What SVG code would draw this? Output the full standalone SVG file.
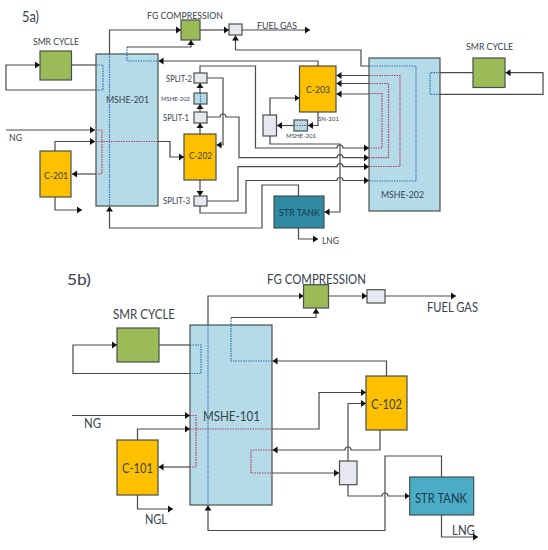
<svg xmlns="http://www.w3.org/2000/svg" width="548" height="550" viewBox="0 0 548 550">
<style>
text{font-family:"Lato","Open Sans","Liberation Sans",sans-serif;fill:#37424c;font-size:10px}
.box{stroke:#46504a;stroke-width:1.200}
.hx{fill:#b5dbe8}.gr{fill:#9bbb59}.or{fill:#ffc000}.sp{fill:#e8e8f0}
.c{fill:none;stroke:#4a4a4a;stroke-width:1.200}
.a{marker-end:url(#ah)}
.b{fill:none;stroke:#2e75b6;stroke-width:1.200;stroke-dasharray:1.500 1}
.r{fill:none;stroke:#b2405f;stroke-width:1.200;stroke-dasharray:1.500 1}
.dk{fill:#1f3a4a}
.l{font-size:13px}
.s{font-size:6px}
</style>
<defs>
<marker id="ah" markerUnits="userSpaceOnUse" markerWidth="6" markerHeight="8" refX="5" refY="4" orient="auto"><path d="M0,0.500L5,4L0,7.500z" fill="#111"/></marker>
</defs>
<rect width="548" height="550" fill="#fff"/>
<text x="22" y="22" style="font-size:15px" textLength="17" lengthAdjust="spacingAndGlyphs">5a)</text>
<text x="67" y="285" style="font-size:16px" textLength="24" lengthAdjust="spacingAndGlyphs">5b)</text>
<g id="nodes-a">
<g id="mshe-201"><rect class="box hx" x="96" y="54" width="62" height="152"/><text x="106" y="103" textLength="43" lengthAdjust="spacingAndGlyphs">MSHE-201</text></g>
<g id="mshe-202"><rect class="box hx" x="369" y="58" width="71" height="153"/><text x="381" y="198" textLength="43" lengthAdjust="spacingAndGlyphs">MSHE-202</text></g>
<g id="smr-a1"><rect class="box gr" x="40" y="51" width="31.500" height="29"/><text x="33" y="45" textLength="46" lengthAdjust="spacingAndGlyphs">SMR CYCLE</text></g>
<g id="smr-a2"><rect class="box gr" x="473" y="58" width="32" height="29.500"/><text x="466" y="50" textLength="47" lengthAdjust="spacingAndGlyphs">SMR CYCLE</text></g>
<g id="fg-a"><rect class="box gr" x="181" y="20" width="19" height="20"/><text x="147" y="19" textLength="76" lengthAdjust="spacingAndGlyphs">FG COMPRESSION</text></g>
<g id="valve-a"><rect class="box sp" x="229" y="24" width="13" height="11"/></g>
<g id="c-201"><rect class="box or" x="40" y="151" width="31" height="46"/><text x="44" y="179" textLength="24" lengthAdjust="spacingAndGlyphs">C-201</text></g>
<g id="c-202"><rect class="box or" x="184" y="134" width="32" height="46"/><text x="189" y="159" textLength="23" lengthAdjust="spacingAndGlyphs">C-202</text></g>
<g id="c-203"><rect class="box or" x="299.500" y="66" width="36.500" height="46"/><text x="306" y="93" textLength="24" lengthAdjust="spacingAndGlyphs">C-203</text></g>
<g id="split-2"><rect class="box sp" x="194" y="73" width="13" height="10"/><text x="166" y="82" textLength="26" lengthAdjust="spacingAndGlyphs">SPLIT-2</text></g>
<g id="mshe-202-small"><rect class="box hx" x="194" y="93" width="13" height="11"/><path class="b" d="M200.500,93V104"/><text class="s" x="161" y="101" textLength="29" lengthAdjust="spacingAndGlyphs">MSHE-202</text></g>
<g id="split-1"><rect class="box sp" x="194" y="112" width="13" height="11"/><text x="163" y="121" textLength="26" lengthAdjust="spacingAndGlyphs">SPLIT-1</text></g>
<g id="split-3"><rect class="box sp" x="194" y="196" width="13" height="10"/><text x="163" y="204" textLength="27" lengthAdjust="spacingAndGlyphs">SPLIT-3</text></g>
<g id="mixer-a"><rect class="box sp" x="263" y="115" width="13.500" height="21"/></g>
<g id="mshe-201-small"><rect class="box hx" x="294" y="120" width="13.500" height="11"/><path class="r" d="M294,125.500H307.500"/><text class="s" x="286" y="138" textLength="30" lengthAdjust="spacingAndGlyphs">MSHE-201</text></g>
<text class="s" x="318" y="121" textLength="21" lengthAdjust="spacingAndGlyphs">SN-201</text>
<g id="str-a"><rect class="box" fill="#2e8ba3" x="274" y="196" width="50" height="32"/><text class="dk" x="279" y="216" textLength="41" lengthAdjust="spacingAndGlyphs">STR TANK</text></g>
</g>
<g id="connectors-a">
<path class="b" d="M96,65H103V90H96"/>
<path class="b" d="M109.500,54V206"/>
<path class="b" d="M127,47V61H158"/>
<path class="r" d="M96,130H102V174H96"/>
<path class="r" d="M96,141.500H158"/>
<path class="b" d="M369,66H416V181H369"/>
<path class="r" d="M369,75.500H400V166.500H369"/>
<path class="r" d="M369,83.500H388.500V157.700H369"/>
<path class="r" d="M369,93.500H382V148H369"/>
<path class="b" d="M440,72.700H430V94.300H440"/>
<path class="c" d="M71.500,65H96"/>
<path class="c a" d="M96,90H6V65H40"/>
<path class="c a" d="M6,130H95"/>
<path class="c a" d="M55,151V141.500H95"/>
<path class="c a" d="M96,174H72"/>
<path class="c a" d="M55,197V210H82"/>
<path class="c a" d="M158,141.500H170V157H184"/>
<path class="c a" d="M109.500,54V30H181"/>
<path class="c a" d="M127,47H191V40"/>
<path class="c a" d="M200,30H229"/>
<path class="c a" d="M242,30H310"/>
<path class="c a" d="M235.500,50V35.500"/>
<path class="c" d="M235.500,50H361V66H369"/>
<path class="c a" d="M318,66V61H158.500"/>
<path class="c a" d="M200,134V123"/>
<path class="c a" d="M200,112V104"/>
<path class="c a" d="M200,93V83"/>
<path class="c a" d="M200,180V196"/>
<path class="c a" d="M207,78H223V145H216.500"/>
<path class="c a" d="M207,117H220a3,3 0 0 1 6,0H239V157.700H337a3,3 0 0 1 6,0H369"/>
<path class="c a" d="M200,73V66H255.500V148H337a3,3 0 0 1 6,0H369"/>
<path class="c a" d="M207,201H238V166.700H337a3,3 0 0 1 6,0H369"/>
<path class="c a" d="M200,206V213H246V180.500H337a3,3 0 0 1 6,0H369"/>
<path class="c a" d="M270,136V144H340V212H324.500"/>
<path class="c a" d="M369,75.500H336.500"/>
<path class="c a" d="M369,83.500H336.500"/>
<path class="c a" d="M369,94H336.500"/>
<path class="c a" d="M318,112V125.500H308"/>
<path class="c a" d="M294,125.500H277"/>
<path class="c a" d="M270,115V98H299.500"/>
<path class="c a" d="M298.500,196V185H262V228H109.500V206.500"/>
<path class="c a" d="M298.500,228V239H318"/>
<path class="c" d="M440,72.700H473"/>
<path class="c a" d="M440,94.300H543V72.700H505.500"/>
</g>
<text x="257" y="29" textLength="40" lengthAdjust="spacingAndGlyphs">FUEL GAS</text>
<text x="9" y="141" textLength="13" lengthAdjust="spacingAndGlyphs">NG</text>
<text x="322" y="244" textLength="17" lengthAdjust="spacingAndGlyphs">LNG</text>
<g id="nodes-b">
<g id="mshe-101"><rect class="box hx" x="190" y="325" width="82" height="180"/><text class="l" x="203" y="421" textLength="57" lengthAdjust="spacingAndGlyphs">MSHE-101</text></g>
<g id="smr-b"><rect class="box gr" x="117" y="328" width="42" height="34"/><text class="l" x="113" y="319" textLength="62" lengthAdjust="spacingAndGlyphs">SMR CYCLE</text></g>
<g id="fg-b"><rect class="box gr" x="303.500" y="284.700" width="25" height="23.300"/><text class="l" x="267" y="284" textLength="99" lengthAdjust="spacingAndGlyphs">FG COMPRESSION</text></g>
<g id="valve-b"><rect class="box sp" x="367" y="289.700" width="18" height="13.300"/></g>
<g id="c-101"><rect class="box or" x="117" y="440" width="41" height="55"/><text class="l" x="122" y="473" textLength="31" lengthAdjust="spacingAndGlyphs">C-101</text></g>
<g id="c-102"><rect class="box or" x="366" y="376" width="41" height="54"/><text class="l" x="371" y="409" textLength="31" lengthAdjust="spacingAndGlyphs">C-102</text></g>
<g id="mixer-b"><rect class="box sp" x="339.500" y="461" width="17.500" height="23.700"/></g>
<g id="str-b"><rect class="box" fill="#4bacc6" x="409.700" y="477" width="64" height="38"/><text class="dk l" x="415" y="503" textLength="52" lengthAdjust="spacingAndGlyphs">STR TANK</text></g>
</g>
<g id="connectors-b">
<path class="b" d="M190,345H201V373.500H190"/>
<path class="b" d="M208,325V505"/>
<path class="b" d="M272,361H231V317.500"/>
<path class="r" d="M190,415.500H196V467H190"/>
<path class="r" d="M190,429H272"/>
<path class="r" d="M272,450H251V473H272"/>
<path class="c" d="M159,345H190"/>
<path class="c a" d="M190,373.500H73V345H117"/>
<path class="c a" d="M72,415.500H190"/>
<path class="c a" d="M137.500,440V429H190"/>
<path class="c a" d="M190,467H158.500"/>
<path class="c a" d="M137.500,495V509H173"/>
<path class="c a" d="M208,325V296H303.500"/>
<path class="c a" d="M231,317.500H316V308.500"/>
<path class="c a" d="M328.500,296H367"/>
<path class="c a" d="M385,296H456"/>
<path class="c a" d="M386.500,376V361H272.500"/>
<path class="c a" d="M272,429H319V392.500H366"/>
<path class="c a" d="M380,430V450H351a3,3 0 0 0 -6,0H272.500"/>
<path class="c a" d="M272,473H339"/>
<path class="c a" d="M348,461V403.500H366"/>
<path class="c a" d="M348,484.700V496H382a3,3 0 0 1 6,0H409.500"/>
<path class="c a" d="M441.500,477V456H385V530.500H208V505.500"/>
<path class="c a" d="M441.500,515V537H478"/>
</g>
<text class="l" x="427" y="312" textLength="51" lengthAdjust="spacingAndGlyphs">FUEL GAS</text>
<text class="l" x="84" y="428" textLength="17" lengthAdjust="spacingAndGlyphs">NG</text>
<text class="l" x="145" y="524" textLength="22" lengthAdjust="spacingAndGlyphs">NGL</text>
<text class="l" x="452" y="535" textLength="23" lengthAdjust="spacingAndGlyphs">LNG</text>
</svg>
